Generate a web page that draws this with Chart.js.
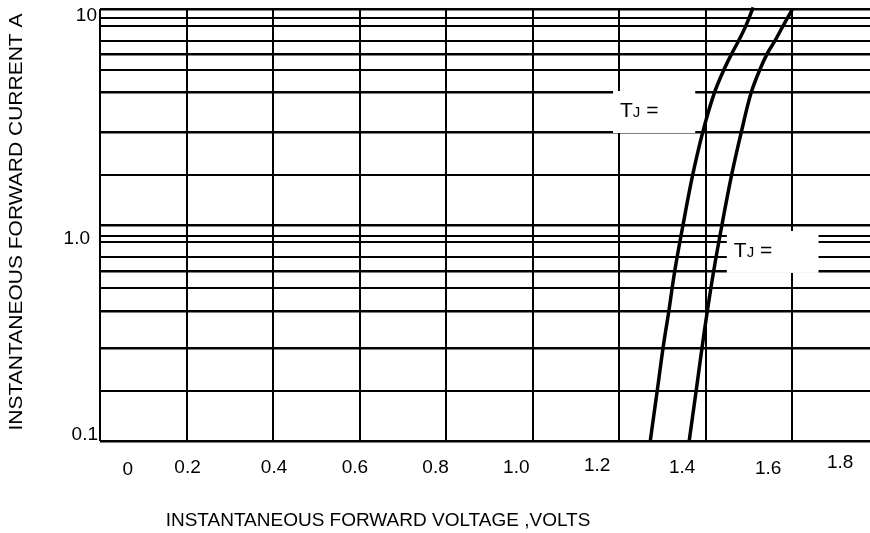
<!DOCTYPE html>
<html><head><meta charset="utf-8">
<script src="https://cdn.jsdelivr.net/npm/chart.js@4.4.1/dist/chart.umd.min.js"></script>
<style>html,body{margin:0;padding:0;background:#fff;overflow:hidden}</style>
</head><body>
<canvas id="c" width="870" height="533"></canvas>
<script>
// ---- data ----
const xGridValues = [0, 0.2, 0.4, 0.6, 0.8, 1.0, 1.2, 1.4, 1.6];
const xTickValues = [0, 0.2, 0.4, 0.6, 0.8, 1.0, 1.2, 1.4, 1.6, 1.8];
const xTickLabels = ['0', '0.2', '0.4', '0.6', '0.8', '1.0', '1.2', '1.4', '1.6', '1.8'];
const yGridValues = [0.1, 0.17, 0.27, 0.4, 0.51, 0.61, 0.71, 0.83, 0.89, 1, 1.7, 2.7, 4.1, 5.2, 6.2, 7.1, 8.3, 9.1, 10];
const yTickValues = [0.1, 1, 10];
const yTickLabels = ['0.1', '1.0', '10'];
const xTitle = 'INSTANTANEOUS FORWARD VOLTAGE ,VOLTS';
const yTitle = 'INSTANTANEOUS FORWARD CURRENT A';
const curveA_V = [1.272, 1.288, 1.302, 1.315, 1.329, 1.347, 1.370, 1.394, 1.420, 1.442, 1.461, 1.476, 1.493, 1.510];
const curveA_I = [0.1, 0.17, 0.273, 0.4, 0.619, 0.982, 1.70, 2.72, 4.08, 5.22, 6.25, 7.11, 8.35, 10.18];
const curveB_V = [1.362, 1.378, 1.392, 1.404, 1.419, 1.437, 1.460, 1.483, 1.505, 1.525, 1.543, 1.560, 1.579, 1.601];
const curveB_I = [0.1, 0.17, 0.273, 0.4, 0.619, 0.982, 1.70, 2.72, 4.08, 5.22, 6.25, 7.11, 8.35, 10.0];
const tjLabelText = ['T', 'J', ' ='];

// ---- layout / style (not data) ----
const FONT = '"Liberation Sans", Arial, sans-serif';
const thickGrid = new Set([0.1, 0.27, 0.4, 0.61, 1, 2.7, 4.1, 6.2, 10]);
const tjBoxes = [
  {x0: 1.186, x1: 1.376, y0: 2.666, y1: 4.172},
  {x0: 1.449, x1: 1.661, y0: 0.60, y1: 0.938}
];
const xLabelShift = [27.7, 1, 1, -4.7, -10.5, -16.3, -22, -23.5, -24, -38.5];
const xLabelDy = [27, 25, 25, 25, 25, 25, 23, 25, 26, 20.5];
const yLabelDy = [-8, 12, 5.5];
const yLabelRight = [98, 90, 97];

const toPts = (xs, ys) => xs.map((x, i) => ({x, y: ys[i]}));

const paintPlugin = {
  id: 'paint',
  beforeDraw(chart) {
    const c = chart.ctx;
    c.save(); c.fillStyle = '#fff'; c.fillRect(0, 0, chart.width, chart.height); c.restore();
  },
  beforeDatasetsDraw(chart) {
    const c = chart.ctx, xs = chart.scales.x, ys = chart.scales.y;
    c.save();
    tjBoxes.forEach(b => {
      const l = xs.getPixelForValue(b.x0), r = xs.getPixelForValue(b.x1);
      const t = ys.getPixelForValue(b.y1), bt = ys.getPixelForValue(b.y0);
      c.fillStyle = '#fff';
      c.fillRect(l, t, r - l, bt - t);
      c.fillStyle = '#000';
      c.textBaseline = 'alphabetic';
      let px = l + 7; const py = t + 26;
      c.font = '21px ' + FONT; c.fillText(tjLabelText[0], px, py); px += c.measureText(tjLabelText[0]).width;
      c.font = '15px ' + FONT; c.fillText(tjLabelText[1], px, py); px += c.measureText(tjLabelText[1]).width;
      c.font = '21px ' + FONT; c.fillText(tjLabelText[2], px, py);
    });
    c.restore();
  },
  afterDraw(chart) {
    const c = chart.ctx, xs = chart.scales.x, ys = chart.scales.y;
    c.save();
    c.fillStyle = '#000';
    c.textBaseline = 'alphabetic';
    c.font = '19px ' + FONT;
    const capHalf = 19 * 0.716 / 2;
    c.textAlign = 'center';
    xTickValues.forEach((v, i) => {
      c.fillText(xTickLabels[i], xs.getPixelForValue(v) + xLabelShift[i], ys.bottom + xLabelDy[i] + capHalf);
    });
    c.textAlign = 'right';
    yTickValues.forEach((v, i) => {
      c.fillText(yTickLabels[i], yLabelRight[i], ys.getPixelForValue(v) + yLabelDy[i] + capHalf);
    });
    // x title
    c.textAlign = 'center';
    c.font = '19px ' + FONT;
    c.fillText(xTitle, 378, 519 + 19 * 0.716 / 2);
    // y title
    c.save();
    c.translate(16, 222);
    c.rotate(-Math.PI / 2);
    c.font = '18px ' + FONT;
    const w = c.measureText(yTitle).width;
    c.scale(417 / w, 1);
    c.textAlign = 'center';
    c.fillText(yTitle, 0, 18 * 0.716 / 2);
    c.restore();
    c.restore();
  }
};

new Chart(document.getElementById('c'), {
  type: 'line',
  data: {
    datasets: [
      {data: toPts(curveA_V, curveA_I), borderColor: '#000', borderWidth: 3.5, pointRadius: 0, tension: 0.35, fill: false, clip: {left: 0, top: 5, right: 0, bottom: 0}},
      {data: toPts(curveB_V, curveB_I), borderColor: '#000', borderWidth: 3.5, pointRadius: 0, tension: 0.35, fill: false, clip: {left: 0, top: 5, right: 0, bottom: 0}}
    ]
  },
  options: {
    responsive: false,
    animation: false,
    devicePixelRatio: 1,
    layout: {padding: {top: 9, left: 0, right: 0, bottom: 0}},
    plugins: {legend: {display: false}, tooltip: {enabled: false}},
    scales: {
      x: {
        type: 'linear', min: 0, max: 1.78,
        afterBuildTicks: s => { s.ticks = xGridValues.map(v => ({value: v})); },
        afterFit: s => { s.height = 92; },
        ticks: {display: false},
        border: {display: false},
        grid: {color: '#000', lineWidth: 2, drawTicks: false}
      },
      y: {
        type: 'logarithmic', min: 0.1, max: 10,
        afterBuildTicks: s => { s.ticks = yGridValues.map(v => ({value: v})); },
        afterFit: s => { s.width = 100; },
        ticks: {display: false},
        border: {display: false},
        grid: {color: '#000', drawTicks: false, lineWidth: ctx => (ctx.tick && thickGrid.has(ctx.tick.value)) ? 2.6 : 2}
      }
    }
  },
  plugins: [paintPlugin]
});
</script>
</body></html>
